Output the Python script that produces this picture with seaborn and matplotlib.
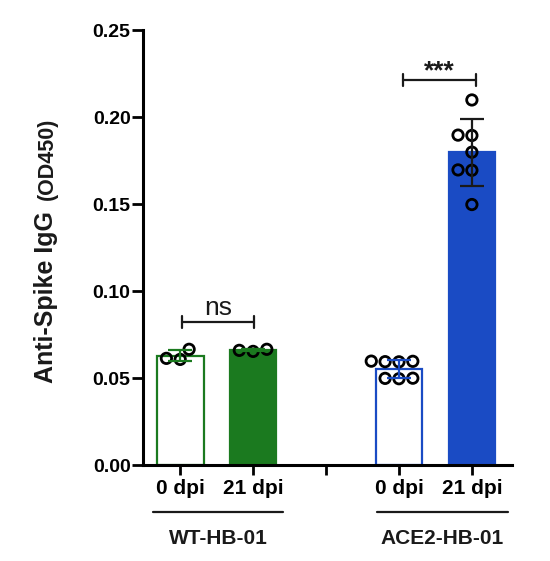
import numpy as np
import pandas as pd
import matplotlib
matplotlib.use('Agg')
import matplotlib.pyplot as plt
import seaborn as sns

# ===== data (OD450) =====
wt_0dpi = [0.0665, 0.0607, 0.0613]
wt_21dpi = [0.0665, 0.0659, 0.0653]
ace2_0dpi = [0.0597, 0.0594, 0.0596, 0.0593, 0.0498, 0.0496, 0.0499]
ace2_21dpi = [0.2098, 0.1896, 0.1894, 0.1798, 0.1694, 0.1696, 0.1497]

order = ['WT 0', 'WT 21', 'gap', 'ACE2 0', 'ACE2 21']
tick_labels = ['0 dpi', '21 dpi', '', '0 dpi', '21 dpi']
groups = ['WT-HB-01', 'ACE2-HB-01']

green = '#1b7a1f'
blue = '#1a4bc4'
ink = '#1a1a1a'

df = pd.concat([
    pd.DataFrame({'cond': 'WT 0', 'od': wt_0dpi}),
    pd.DataFrame({'cond': 'WT 21', 'od': wt_21dpi}),
    pd.DataFrame({'cond': 'ACE2 0', 'od': ace2_0dpi}),
    pd.DataFrame({'cond': 'ACE2 21', 'od': ace2_21dpi}),
], ignore_index=True)

# ===== style =====
sns.set_style('ticks')
plt.rcParams['font.family'] = ['Liberation Sans', 'DejaVu Sans']
plt.rcParams['font.weight'] = 'bold'

fig = plt.figure(figsize=(5.5, 5.61), dpi=100)
ax = fig.add_axes([0.26, 0.1711, 0.6709, 0.7754])

sns.barplot(data=df, x='cond', y='od', order=order, errorbar=None,
            width=0.64, ax=ax, zorder=1)

# style bars: 0 dpi open, 21 dpi filled
bar_style = {'WT 0': ('white', green), 'WT 21': (green, green),
             'ACE2 0': ('white', blue), 'ACE2 21': (blue, blue)}
bars = sorted(ax.patches, key=lambda p: p.get_x())
bar_conds = [c for c in order if c != 'gap']
for p, c in zip(bars, bar_conds):
    fc, ec = bar_style[c]
    p.set_facecolor(fc)
    p.set_edgecolor(ec)
    p.set_linewidth(1.6)

sns.swarmplot(data=df, x='cond', y='od', order=order, size=7.5,
              color='none', edgecolor='black', linewidth=2, ax=ax, zorder=3)
for coll in ax.collections:
    coll.set_facecolor('none')
    coll.set_edgecolor('black')
    coll.set_linewidth(2)

# SD error bars
stats = df.groupby('cond')['od'].agg(['mean', 'std'])
err_col = {'WT 0': green, 'WT 21': green, 'ACE2 0': blue, 'ACE2 21': ink}
for c in bar_conds:
    ax.errorbar(order.index(c), stats.loc[c, 'mean'], yerr=stats.loc[c, 'std'],
                color=err_col[c], capsize=8.5, elinewidth=1.6, capthick=1.6,
                fmt='none', zorder=4)

# significance brackets
def bracket(x1, x2, y, label, size, weight, ty):
    h = 0.0035
    ax.plot([x1, x1, x2, x2], [y - h, y, y, y - h], color=ink, lw=1.6,
            clip_on=False, zorder=5)
    ax.plot([x1, x1], [y, y + h], color=ink, lw=1.6, clip_on=False)
    ax.plot([x2, x2], [y, y + h], color=ink, lw=1.6, clip_on=False)
    ax.text((x1 + x2) / 2, ty, label, ha='center', va='baseline',
            fontsize=size, fontweight=weight, color=ink)

bracket(0.02, 1.01, 0.0821, 'ns', 19, 'normal', 0.0861)
bracket(3.05, 4.05, 0.2214, '***', 19, 'bold', 0.2225)

# axes
ax.set_ylim(0, 0.25)
ax.set_xlim(-0.51, 4.55)
ax.set_yticks([0, 0.05, 0.10, 0.15, 0.20, 0.25])
ax.set_yticklabels([f'{v:.2f}' for v in [0, 0.05, 0.10, 0.15, 0.20, 0.25]])
ax.set_xticks(range(len(order)))
ax.set_xticklabels(tick_labels)
ax.set_xlabel('')
ax.set_ylabel('')
for s in ['top', 'right']:
    ax.spines[s].set_visible(False)
for s in ['left', 'bottom']:
    ax.spines[s].set_linewidth(2.2)
    ax.spines[s].set_color('black')
ax.tick_params(axis='y', length=8, width=2, pad=1, labelsize=14, colors='black')
ax.tick_params(axis='x', length=7, width=2, pad=3, labelsize=15, colors='black')
for t in ax.get_xticklabels() + ax.get_yticklabels():
    t.set_fontweight('bold')

# group underlines and names
tr = ax.get_xaxis_transform()
for (x1, x2), name in zip([(-0.37, 1.41), (2.70, 4.49)], groups):
    ax.plot([x1, x2], [-0.108, -0.108], color=ink, lw=1.6, transform=tr,
            clip_on=False)
    ax.text((x1 + x2) / 2, -0.170, name, transform=tr, ha='center',
            va='center', fontsize=15, fontweight='bold', color=ink)

# y label with two sizes
fig.text(0.0964, 0.3173, 'Anti-Spike IgG', rotation=90, rotation_mode='anchor',
         ha='left', va='baseline', fontsize=18, fontweight='bold', color=ink)
fig.text(0.0964, 0.6435, '(OD450)', rotation=90, rotation_mode='anchor',
         ha='left', va='baseline', fontsize=15.5, fontweight='bold', color=ink)

fig.savefig('out.png', dpi=100)
